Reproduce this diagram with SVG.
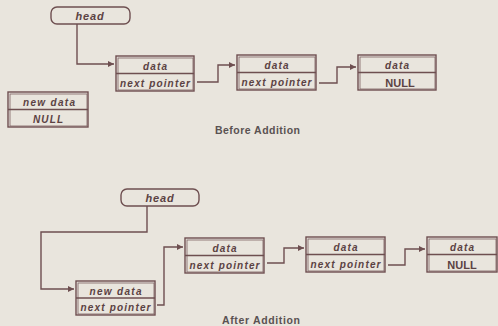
<svg xmlns="http://www.w3.org/2000/svg" width="498" height="326" viewBox="0 0 498 326">
<style>
.bg{fill:#e9e5dd}
.box{fill:none;stroke:#6e4f50;stroke-width:1.4}
.inner{fill:none;stroke:#7d6263;stroke-width:0.8}
.t{font-family:"Liberation Sans",Arial,sans-serif;font-weight:bold;font-style:italic;font-size:10px;fill:#5b4243;text-anchor:middle}
.n{font-style:normal;font-size:11px}
.h{font-size:11px;letter-spacing:0.8px}
.cap{font-family:"Liberation Sans",Arial,sans-serif;font-weight:bold;font-size:10.5px;fill:#5a5252}
.c{fill:none;stroke:#6e4f50;stroke-width:1.4}
</style>
<defs>
<marker id="ah" markerWidth="8" markerHeight="8" refX="6" refY="4" orient="auto" markerUnits="userSpaceOnUse">
<path d="M0,1 L6,4 L0,7 Z" fill="#6e4f50"/>
</marker>
</defs>
<rect class="bg" x="0" y="0" width="498" height="326"/>
<g id="connectors">
<path class="c" d="M77,24 V64 H114" marker-end="url(#ah)"/>
<path class="c" d="M197,82 H218 V65 H235" marker-end="url(#ah)"/>
<path class="c" d="M319,83 H337 V67 H356" marker-end="url(#ah)"/>
<path class="c" d="M147,206 V232 H41 V289 H74" marker-end="url(#ah)"/>
<path class="c" d="M157,305 H164 V247 H183" marker-end="url(#ah)"/>
<path class="c" d="M267,263 H284 V248 H304" marker-end="url(#ah)"/>
<path class="c" d="M388,265 H405 V249 H425" marker-end="url(#ah)"/>
</g>
<g id="head-top">
<rect class="box" x="51" y="7" width="79" height="17" rx="6"/>
<text class="t h" x="90" y="20">head</text>
</g>
<g id="node-top-1">
<rect class="box" x="116" y="56" width="78" height="35"/>
<rect class="inner" x="118" y="58" width="75" height="32"/>
<line class="box" x1="116" y1="73.5" x2="194" y2="73.5"/>
<text class="t" x="155" y="70" textLength="24" lengthAdjust="spacing">data</text>
<text class="t" x="155" y="87" textLength="70" lengthAdjust="spacing">next pointer</text>
</g>
<g id="node-top-2">
<rect class="box" x="237" y="55" width="79" height="35"/>
<rect class="inner" x="239" y="57" width="76" height="32"/>
<line class="box" x1="237" y1="72.5" x2="316" y2="72.5"/>
<text class="t" x="276.5" y="69" textLength="24" lengthAdjust="spacing">data</text>
<text class="t" x="276.5" y="86" textLength="70" lengthAdjust="spacing">next pointer</text>
</g>
<g id="node-top-3">
<rect class="box" x="358" y="55" width="78" height="35"/>
<rect class="inner" x="360" y="57" width="75" height="32"/>
<line class="box" x1="358" y1="72.5" x2="436" y2="72.5"/>
<text class="t" x="397" y="69" textLength="24" lengthAdjust="spacing">data</text>
<text class="t n" x="400" y="86.5">NULL</text>
</g>
<g id="node-new-top">
<rect class="box" x="8" y="92" width="80" height="35"/>
<rect class="inner" x="10" y="94" width="77" height="32"/>
<line class="box" x1="8" y1="109.5" x2="88" y2="109.5"/>
<text class="t" x="49" y="106" textLength="52" lengthAdjust="spacing">new data</text>
<text class="t" x="48" y="123" font-size="11" textLength="30" lengthAdjust="spacing">NULL</text>
</g>
<text class="cap" x="215" y="134" textLength="85" lengthAdjust="spacing">Before Addition</text>
<g id="head-bottom">
<rect class="box" x="121" y="189" width="78" height="17" rx="6"/>
<text class="t h" x="160" y="202">head</text>
</g>
<g id="node-new-bottom">
<rect class="box" x="76" y="281" width="79" height="34"/>
<rect class="inner" x="78" y="283" width="76" height="31"/>
<line class="box" x1="76" y1="298" x2="155" y2="298"/>
<text class="t" x="115.5" y="294.5" textLength="52" lengthAdjust="spacing">new data</text>
<text class="t" x="115.5" y="311" textLength="70" lengthAdjust="spacing">next pointer</text>
</g>
<g id="node-bottom-1">
<rect class="box" x="185" y="238" width="79" height="35"/>
<rect class="inner" x="187" y="240" width="76" height="32"/>
<line class="box" x1="185" y1="255.5" x2="264" y2="255.5"/>
<text class="t" x="224.5" y="252" textLength="24" lengthAdjust="spacing">data</text>
<text class="t" x="224.5" y="269" textLength="70" lengthAdjust="spacing">next pointer</text>
</g>
<g id="node-bottom-2">
<rect class="box" x="306" y="237" width="79" height="35"/>
<rect class="inner" x="308" y="239" width="76" height="32"/>
<line class="box" x1="306" y1="254.5" x2="385" y2="254.5"/>
<text class="t" x="345.5" y="251" textLength="24" lengthAdjust="spacing">data</text>
<text class="t" x="345.5" y="268" textLength="70" lengthAdjust="spacing">next pointer</text>
</g>
<g id="node-bottom-3">
<rect class="box" x="427" y="237" width="70" height="35"/>
<rect class="inner" x="429" y="239" width="67" height="32"/>
<line class="box" x1="427" y1="254.5" x2="497" y2="254.5"/>
<text class="t" x="462" y="251" textLength="24" lengthAdjust="spacing">data</text>
<text class="t n" x="462" y="268.5">NULL</text>
</g>
<text class="cap" x="222" y="324" textLength="78" lengthAdjust="spacing">After Addition</text>
</svg>
